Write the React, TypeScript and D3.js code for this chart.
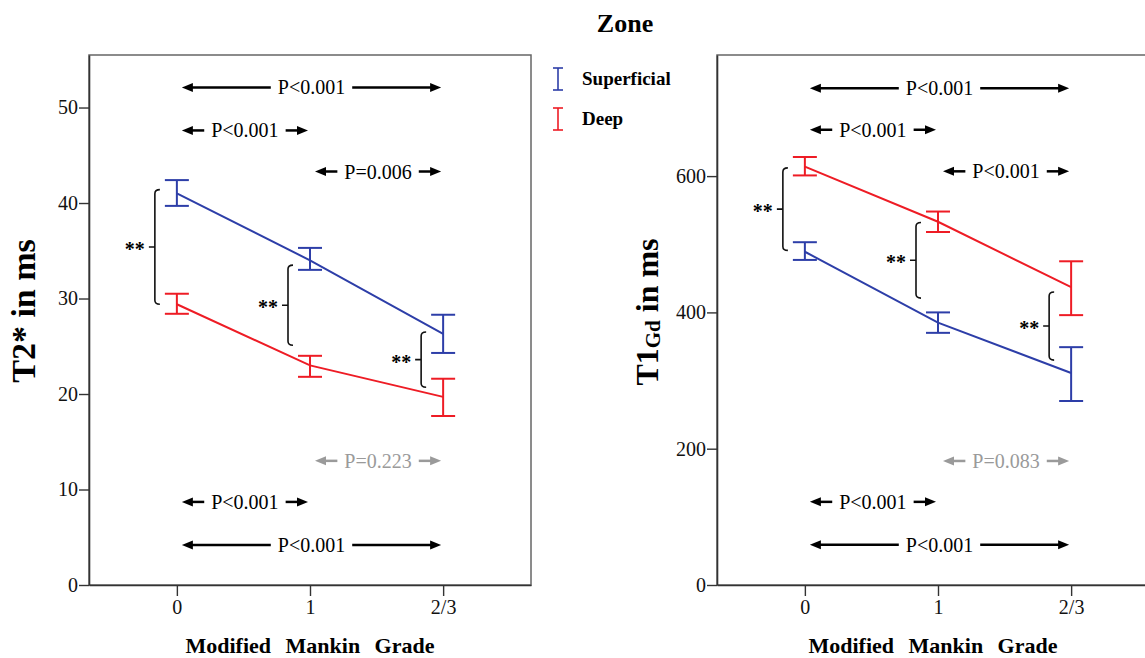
import React, { useEffect, useRef } from "react";
import * as d3 from "d3";

// Modified Mankin grade groups
const grades = ["0", "1", "2/3"];

// T2* (ms), mean with error bar ends
const t2SuperficialMean = [41.0, 34.0, 26.3];
const t2SuperficialLow = [39.7, 33.0, 24.3];
const t2SuperficialHigh = [42.4, 35.3, 28.3];
const t2DeepMean = [29.4, 23.0, 19.7];
const t2DeepLow = [28.4, 21.8, 17.7];
const t2DeepHigh = [30.5, 24.0, 21.6];
const t2Ticks = [0, 10, 20, 30, 40, 50];

// T1Gd (ms)
const t1SuperficialMean = [489, 385, 311];
const t1SuperficialLow = [477, 370, 270];
const t1SuperficialHigh = [503, 400, 349];
const t1DeepMean = [614, 533, 437];
const t1DeepLow = [601, 518, 396];
const t1DeepHigh = [628, 548, 475];
const t1Ticks = [0, 200, 400, 600];

// pairwise comparisons between grades (level in axis units)
const t2Comparisons = [
  { from: 0, to: 2, level: 52.1, label: "P<0.001", ns: false },
  { from: 0, to: 1, level: 47.6, label: "P<0.001", ns: false },
  { from: 1, to: 2, level: 43.3, label: "P=0.006", ns: false },
  { from: 1, to: 2, level: 13.0, label: "P=0.223", ns: true },
  { from: 0, to: 1, level: 8.7, label: "P<0.001", ns: false },
  { from: 0, to: 2, level: 4.2, label: "P<0.001", ns: false },
];
const t1Comparisons = [
  { from: 0, to: 2, level: 729, label: "P<0.001", ns: false },
  { from: 0, to: 1, level: 668, label: "P<0.001", ns: false },
  { from: 1, to: 2, level: 607, label: "P<0.001", ns: false },
  { from: 1, to: 2, level: 182, label: "P=0.083", ns: true },
  { from: 0, to: 1, level: 122, label: "P<0.001", ns: false },
  { from: 0, to: 2, level: 59, label: "P<0.001", ns: false },
];

// zone comparison brackets (**) per grade
const t2Brackets = [
  { grade: 0, top: 41.4, bottom: 29.4 },
  { grade: 1, top: 33.5, bottom: 25.1 },
  { grade: 2, top: 26.5, bottom: 20.7 },
];
const t1Brackets = [
  { grade: 0, top: 612, bottom: 491 },
  { grade: 1, top: 532, bottom: 421 },
  { grade: 2, top: 430, bottom: 330 },
];

const BLUE = "#2d3ea8";
const RED = "#ee1c25";
const FONT = "'Liberation Serif', 'Times New Roman', serif";

const App = () => {
  const ref = useRef<SVGSVGElement>(null);

  useEffect(() => {
    const svg = d3.select(ref.current);
    svg.selectAll("*").remove();

    const drawPanel = (cfg: any) => {
      const { left, right, top, bottom, yMax, ticks, series, comparisons, brackets } = cfg;
      const g = svg.append("g");
      const x = d3.scalePoint<string>().domain(grades).range([left, right]).padding(0.66);
      const y = d3.scaleLinear().domain([0, yMax]).range([bottom, top]);

      g.append("rect")
        .attr("x", left).attr("y", top)
        .attr("width", right - left).attr("height", bottom - top)
        .attr("fill", "none").attr("stroke", "#666").attr("stroke-width", 1.5);

      const yAxis = g.append("g")
        .attr("transform", `translate(${left},0)`)
        .call(d3.axisLeft(y).tickValues(ticks).tickSize(10).tickPadding(1).tickSizeOuter(0));
      const xAxis = g.append("g")
        .attr("transform", `translate(0,${bottom})`)
        .call(d3.axisBottom(x).tickSize(11).tickPadding(4).tickSizeOuter(0));
      [yAxis, xAxis].forEach((a) => {
        a.select(".domain").attr("stroke", "#333").attr("stroke-width", 1.6);
        a.selectAll(".tick line").attr("stroke", "#333").attr("stroke-width", 1.4);
        a.selectAll(".tick text").attr("font-family", FONT).attr("font-size", 20).attr("fill", "#111");
      });

      // series lines + error bars
      series.forEach((s: any) => {
        const line = d3.line<number>().x((_, i) => x(grades[i])!).y((d) => y(d));
        g.append("path").attr("d", line(s.mean)).attr("fill", "none")
          .attr("stroke", s.color).attr("stroke-width", 2);
        grades.forEach((gr, i) => {
          const cx = x(gr)!;
          const eb = g.append("g").attr("stroke", s.color).attr("stroke-width", 2);
          eb.append("line").attr("x1", cx).attr("x2", cx).attr("y1", y(s.low[i])).attr("y2", y(s.high[i]));
          eb.append("line").attr("x1", cx - 12).attr("x2", cx + 12).attr("y1", y(s.low[i])).attr("y2", y(s.low[i]));
          eb.append("line").attr("x1", cx - 12).attr("x2", cx + 12).attr("y1", y(s.high[i])).attr("y2", y(s.high[i]));
        });
      });

      // comparison arrows
      comparisons.forEach((c: any) => {
        const col = c.ns ? "#9a9a9a" : "#000";
        const xa = x(grades[c.from])! + 5;
        const xb = x(grades[c.to])! - 2;
        const yy = y(c.level);
        const mid = (xa + xb) / 2;
        const t = g.append("text").attr("x", mid).attr("y", yy + 7)
          .attr("text-anchor", "middle").attr("font-family", FONT).attr("font-size", 20)
          .attr("fill", col).text(c.label);
        const w = (t.node() as SVGTextElement).getComputedTextLength();
        const ah = 11;
        g.append("line").attr("x1", xa + ah - 1).attr("x2", mid - w / 2 - 7).attr("y1", yy).attr("y2", yy)
          .attr("stroke", col).attr("stroke-width", 2.5);
        g.append("line").attr("x1", mid + w / 2 + 7).attr("x2", xb - ah + 1).attr("y1", yy).attr("y2", yy)
          .attr("stroke", col).attr("stroke-width", 2.5);
        g.append("path").attr("d", `M${xa},${yy}L${xa + ah},${yy - 4.5}L${xa + ah},${yy + 4.5}Z`).attr("fill", col);
        g.append("path").attr("d", `M${xb},${yy}L${xb - ah},${yy - 4.5}L${xb - ah},${yy + 4.5}Z`).attr("fill", col);
      });

      // ** brackets between zones
      brackets.forEach((b: any) => {
        const bx = x(grades[b.grade])! - 22;
        const yt = y(b.top);
        const yb = y(b.bottom);
        const ym = (yt + yb) / 2;
        g.append("path")
          .attr("d", `M${bx + 5},${yt}Q${bx},${yt} ${bx},${yt + 4}L${bx},${yb - 4}Q${bx},${yb} ${bx + 5},${yb}M${bx},${ym}L${bx - 6},${ym}`)
          .attr("fill", "none").attr("stroke", "#111").attr("stroke-width", 1.6);
        g.append("text").attr("x", bx - 10).attr("y", ym + 9).attr("text-anchor", "end")
          .attr("font-family", FONT).attr("font-weight", "bold").attr("font-size", 20).text("**");
      });

      // x axis title
      g.append("text").attr("x", (left + Math.min(right, 1145 - 8)) / 2 + (cfg.xTitleShift || 0)).attr("y", 653)
        .attr("text-anchor", "middle").attr("font-family", FONT).attr("font-weight", "bold")
        .attr("font-size", 22).attr("word-spacing", 9).text("Modified Mankin Grade");
    };

    drawPanel({
      left: 89, right: 531, top: 55, bottom: 585, yMax: 55.5, ticks: t2Ticks,
      series: [
        { mean: t2SuperficialMean, low: t2SuperficialLow, high: t2SuperficialHigh, color: BLUE },
        { mean: t2DeepMean, low: t2DeepLow, high: t2DeepHigh, color: RED },
      ],
      comparisons: t2Comparisons, brackets: t2Brackets,
    });
    drawPanel({
      left: 717, right: 1159, top: 55, bottom: 585, yMax: 777.7, ticks: t1Ticks,
      series: [
        { mean: t1SuperficialMean, low: t1SuperficialLow, high: t1SuperficialHigh, color: BLUE },
        { mean: t1DeepMean, low: t1DeepLow, high: t1DeepHigh, color: RED },
      ],
      comparisons: t1Comparisons, brackets: t1Brackets, xTitleShift: 6,
    });

    // y axis titles
    svg.append("text").attr("transform", "translate(35,311) rotate(-90)")
      .attr("text-anchor", "middle").attr("font-family", FONT).attr("font-weight", "bold")
      .attr("font-size", 34).text("T2* in ms");
    const t1 = svg.append("text").attr("transform", "translate(658,312) rotate(-90)")
      .attr("text-anchor", "middle").attr("font-family", FONT).attr("font-weight", "bold")
      .attr("font-size", 32);
    t1.append("tspan").text("T1");
    t1.append("tspan").attr("font-size", 21).attr("dy", 2).text("Gd");
    t1.append("tspan").attr("dy", -2).text(" in ms");

    // title
    svg.append("text").attr("x", 625).attr("y", 32).attr("text-anchor", "middle")
      .attr("font-family", FONT).attr("font-weight", "bold").attr("font-size", 26).text("Zone");

    // legend
    const legend = [
      { label: "Superficial", color: BLUE, y: 79 },
      { label: "Deep", color: RED, y: 119 },
    ];
    legend.forEach((l) => {
      const lg = svg.append("g").attr("stroke", l.color).attr("stroke-width", 1.6);
      lg.append("line").attr("x1", 558).attr("x2", 558).attr("y1", l.y - 11).attr("y2", l.y + 11);
      lg.append("line").attr("x1", 553).attr("x2", 563).attr("y1", l.y - 11).attr("y2", l.y - 11);
      lg.append("line").attr("x1", 553).attr("x2", 563).attr("y1", l.y + 11).attr("y2", l.y + 11);
      svg.append("text").attr("x", 582).attr("y", l.y + 6).attr("font-family", FONT)
        .attr("font-weight", "bold").attr("font-size", 19).text(l.label);
    });
  }, []);

  return (
    <svg ref={ref} width={1145} height={658}
      style={{ position: "absolute", left: 0, top: 0, background: "#fff" }} />
  );
};

export default App;
